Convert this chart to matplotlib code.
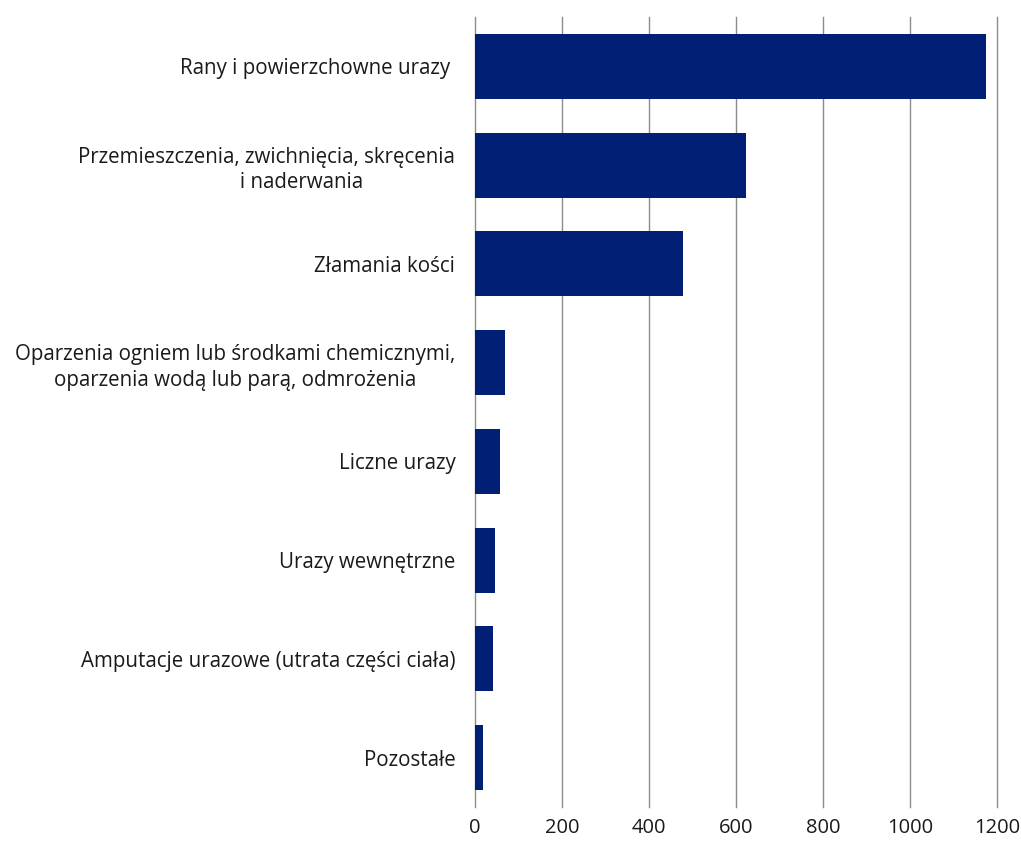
import matplotlib
matplotlib.use('Agg')
import matplotlib.pyplot as plt
import numpy as np

plt.rcParams['font.family'] = ['Open Sans', 'DejaVu Sans']

# categories, top to bottom
categories = ['Rany i powierzchowne urazy ',
              'Przemieszczenia, zwichnięcia, skręcenia\n             i naderwania',
              'Złamania kości',
              'Oparzenia ogniem lub środkami chemicznymi,\noparzenia wodą lub parą, odmrożenia',
              'Liczne urazy',
              'Urazy wewnętrzne',
              'Amputacje urazowe (utrata części ciała)',
              'Pozostałe']
values = [1175, 624, 479, 69, 58, 46, 42, 19]
xticks = [0, 200, 400, 600, 800, 1000, 1200]

fig = plt.figure(figsize=(10.21, 8.41), dpi=100)
ax = fig.add_axes([0.465, 0.0404, 0.5115, 0.9394])

y = np.arange(len(categories))
ax.barh(y, values, height=0.66, color='#001f75', zorder=3)
ax.set_ylim(len(categories) - 0.5, -0.5)
ax.set_xlim(0, 1200)
ax.set_xticks(xticks)
ax.set_xticklabels([str(t) for t in xticks], fontsize=14.5)
ax.set_yticks(y)
ax.set_yticklabels(categories, fontsize=14.8, multialignment='center',
                   linespacing=1.3)
ax.tick_params(axis='both', length=0, colors='#1a1a1a')
ax.tick_params(axis='y', pad=14)
ax.tick_params(axis='x', pad=8)
ax.grid(axis='x', color='#8c8c8c', linewidth=1.0, zorder=0)
for gl in ax.get_xgridlines():
    gl.set_clip_on(False)
for s in ax.spines.values():
    s.set_visible(False)

fig.savefig('out.png', dpi=100)
